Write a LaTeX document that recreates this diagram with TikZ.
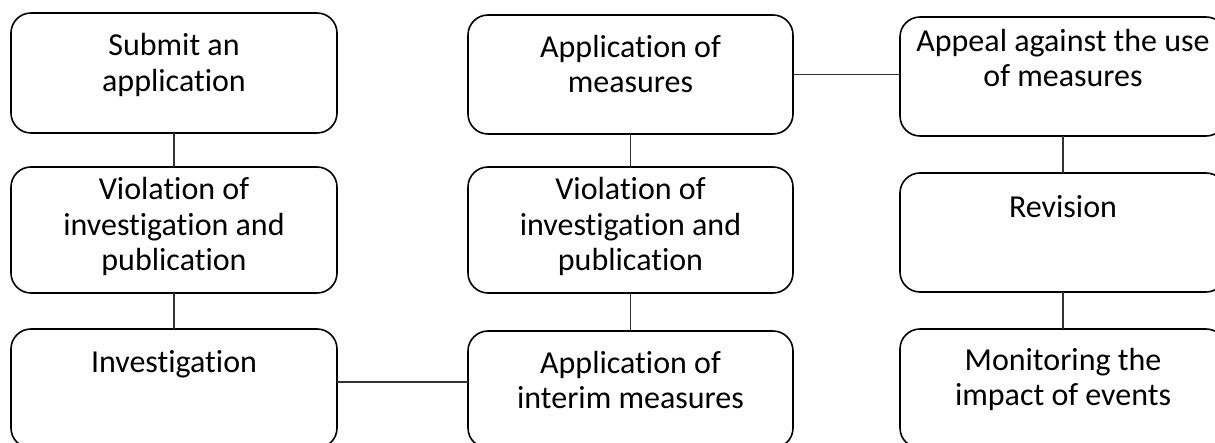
\documentclass[tikz,border=0pt]{standalone}
\usepackage{fontspec}
\setmainfont{Carlito}[RawFeature={-liga;-clig}]
\begin{document}
\begin{tikzpicture}[x=1pt,y=1pt,
  stage/.style={draw=black, line width=1.6pt, rounded corners=20pt,
    inner sep=0pt, outer sep=0pt},
  caption/.style={anchor=north, align=center, inner sep=0pt, outer sep=0pt,
    font=\fontsize{32}{35.5}\selectfont},
  link/.style={draw=black!80, line width=1.1pt}]
\useasboundingbox (0,0) rectangle (1215,-443);
\clip (0,0) rectangle (1215,-443);

% rounded stage boxes
\node[stage, minimum width=326pt, minimum height=120pt] (a1) at (174,-73) {};
\node[stage, minimum width=326pt, minimum height=126pt] (a2) at (174,-230) {};
\node[stage, minimum width=326pt, minimum height=119pt] (a3) at (174,-388.5) {};
\node[stage, minimum width=325pt, minimum height=119pt] (b1) at (630.5,-74.5) {};
\node[stage, minimum width=325pt, minimum height=126pt] (b2) at (630.5,-230) {};
\node[stage, minimum width=325pt, minimum height=117pt] (b3) at (630.5,-389.5) {};
\node[stage, minimum width=326pt, minimum height=119pt] (c1) at (1063,-76.5) {};
\node[stage, minimum width=326pt, minimum height=119pt] (c2) at (1063,-232.5) {};
\node[stage, minimum width=326pt, minimum height=119pt] (c3) at (1063,-388.5) {};

% labels: the strut puts the top of each node 25pt above the first baseline
\def\fl{\rule{0pt}{25pt}}
\node[caption] (ta1) at (174,-31) {\fl Submit an\\application};
\node[caption] (ta2) at (174,-175) {\fl Violation of\\investigation and\\publication};
\node[caption] (ta3) at (174,-347) {\fl Investigation};
\node[caption] (tb1) at (630.5,-32.5) {\fl Application of\\measures};
\node[caption] (tb2) at (630.5,-175) {\fl Violation of\\investigation and\\publication};
\node[caption] (tb3) at (630.5,-348) {\fl Application of\\interim measures};
\node[caption] (tc1) at (1063,-26.5) {\fl Appeal against the use\\of measures};
\node[caption] (tc2) at (1063,-193) {\fl Revision};
\node[caption] (tc3) at (1063,-345) {\fl Monitoring the\\impact of events};

% connectors
\draw[link] (a1.south) -- (a2.north);
\draw[link] (a2.south) -- (a3.north);
\draw[link] (b1.south) -- (b2.north);
\draw[link] (b2.south) -- (b3.north);
\draw[link] (c1.south) -- (c2.north);
\draw[link] (c2.south) -- (c3.north);
\coordinate (j1) at ([yshift=6.5pt]a3.east);
\draw[link] (j1) -- (j1 -| b3.west);
\draw[link] (b1.east) -- (b1.east -| c1.west);
\end{tikzpicture}
\end{document}
